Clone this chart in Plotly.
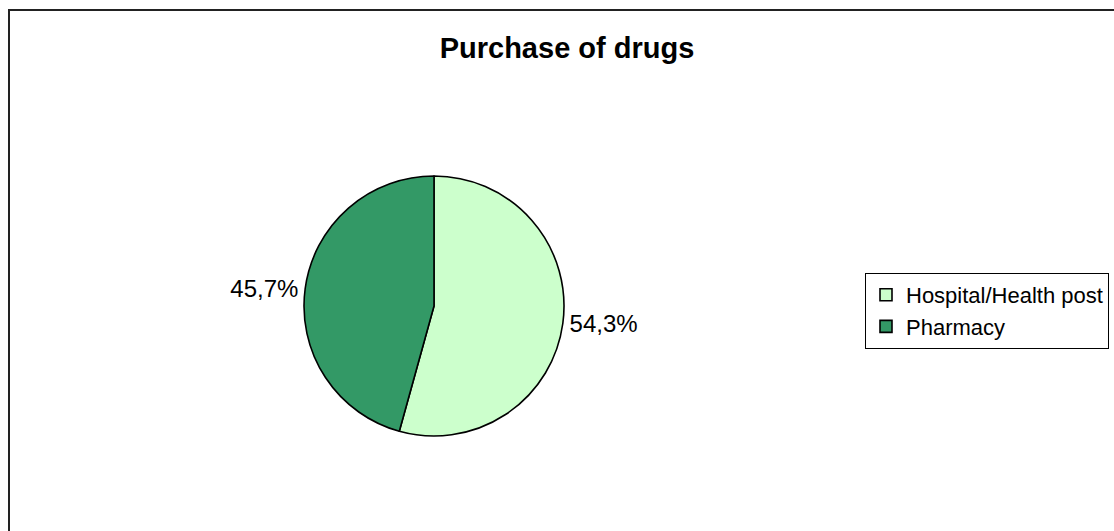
import plotly.graph_objects as go

# Where the drugs were purchased (share of respondents, %)
places = ["Hospital/Health post", "Pharmacy"]
shares = [54.3, 45.7]
slice_colors = ["#CCFFCC", "#339966"]

W, H = 1114, 531
FONT = "Liberation Sans, Arial, sans-serif"

fig = go.Figure(
    go.Pie(
        labels=places,
        values=shares,
        sort=False,
        direction="clockwise",
        rotation=0,
        marker=dict(colors=slice_colors, line=dict(color="#000000", width=1.6)),
        textposition="outside",
        texttemplate="%{percent:.1%}",
        textfont=dict(family=FONT, size=24, color="#000000"),
        hoverinfo="label+percent",
        domain=dict(x=[302 / W, 566 / W], y=[1 - 436 / H, 1 - 176 / H]),
    )
)

# Chart-area frame
fig.add_shape(
    type="rect", xref="paper", yref="paper",
    x0=9 / W, x1=1.02, y0=-0.02, y1=1 - 10 / H,
    line=dict(color="#222222", width=2), fillcolor="rgba(0,0,0,0)", layer="below",
)

fig.update_layout(
    width=W, height=H,
    margin=dict(l=0, r=0, t=0, b=0),
    paper_bgcolor="#FFFFFF",
    plot_bgcolor="#FFFFFF",
    separators=",.",
    font=dict(family=FONT, color="#000000"),
    title=dict(
        text="<b>Purchase of drugs</b>",
        font=dict(family=FONT, size=29, color="#000000"),
        x=567 / W, xanchor="center", xref="container",
        y=1 - 48 / H, yanchor="middle", yref="container",
    ),
    legend=dict(
        x=865 / W, xanchor="left",
        y=1 - 273 / H, yanchor="top",
        bgcolor="#FFFFFF", bordercolor="#000000", borderwidth=1,
        font=dict(family=FONT, size=22, color="#000000"),
    ),
    showlegend=True,
)

fig.write_html("out.html")
